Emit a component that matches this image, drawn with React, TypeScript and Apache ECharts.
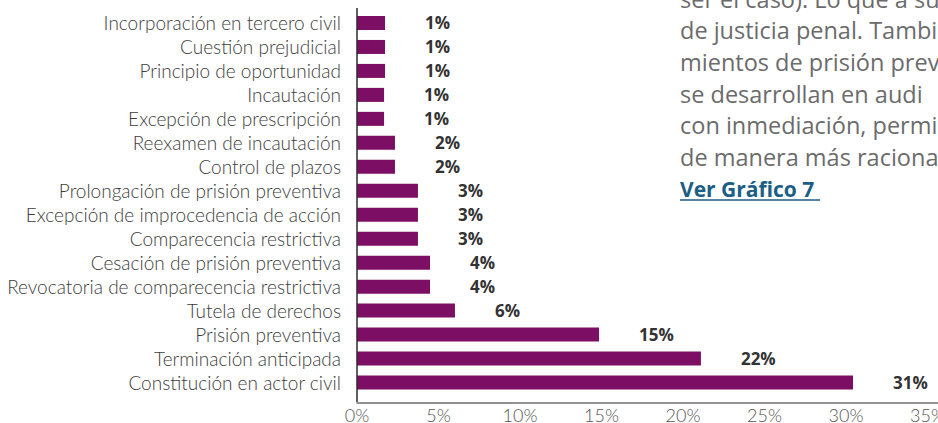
import React, { useEffect, useRef } from 'react';
import * as echarts from 'echarts';

const categories = [
  'Incorporación en tercero civil',
  'Cuestión prejudicial',
  'Principio de oportunidad',
  'Incautación',
  'Excepción de prescripción',
  'Reexamen de incautación',
  'Control de plazos',
  'Prolongación de prisión preventiva',
  'Excepción de improcedencia de acción',
  'Comparecencia restrictiva',
  'Cesación de prisión preventiva',
  'Revocatoria de comparecencia restrictiva',
  'Tutela de derechos',
  'Prisión preventiva',
  'Terminación anticipada',
  'Constitución en actor civil',
];

const barValues = [1.72, 1.72, 1.72, 1.66, 1.66, 2.33, 2.33, 3.74, 3.74, 3.74, 4.48, 4.48, 6.01, 14.85, 21.1, 30.43];

const valueLabels = ['1%', '1%', '1%', '1%', '1%', '2%', '2%', '3%', '3%', '3%', '4%', '4%', '6%', '15%', '22%', '31%'];

const tickStep = 5;
const axisMax = 36;

const paragraphLines = [
  'ser el caso). Lo que a su',
  'de justicia penal. Tambi',
  'mientos de prisión preve',
  'se desarrollan en audi',
  'con inmediación, permi',
  'de manera más raciona',
];

const linkText = 'Ver Gráfico 7';

export default function App() {
  const ref = useRef<HTMLDivElement>(null);

  useEffect(() => {
    if (!ref.current) return;
    const chart = echarts.init(ref.current, null, { renderer: 'svg' });

    const gridLeft = 357;
    const gridTop = 11;
    const gridHeight = 383.5;
    const pxPerUnit = 16.3;
    const gridWidth = axisMax * pxPerUnit;

    const textX = 680;
    const lineStep = 31.7;
    const firstLineY = -1.5;

    const graphics: any[] = [
      {
        type: 'line',
        shape: { x1: gridLeft, y1: 8, x2: gridLeft, y2: 402 },
        style: { stroke: '#2b2b2b', lineWidth: 1.5 },
        z: 10,
      },
    ];
    paragraphLines.forEach((t, i) => {
      graphics.push({
        type: 'text',
        x: textX,
        y: firstLineY + i * lineStep,
        style: {
          text: t,
          fill: '#6b6b6b',
          font: '23.5px "Open Sans"',
          verticalAlign: 'middle',
          align: 'left',
        },
      });
    });
    const linkY = firstLineY + paragraphLines.length * lineStep;
    graphics.push({
      type: 'text',
      x: textX,
      y: linkY,
      style: {
        text: linkText,
        fill: '#1b5e86',
        font: 'bold 21px "Open Sans"',
        verticalAlign: 'middle',
        align: 'left',
      },
    });
    graphics.push({
      type: 'line',
      shape: { x1: textX, y1: 200, x2: 820, y2: 200 },
      style: { stroke: '#1b5e86', lineWidth: 1.5 },
    });

    chart.setOption({
      animation: false,
      backgroundColor: '#ffffff',
      grid: {
        left: gridLeft,
        top: gridTop,
        width: gridWidth,
        height: gridHeight,
        containLabel: false,
        outerBoundsMode: 'none',
      },
      xAxis: {
        type: 'value',
        min: 0,
        max: axisMax,
        interval: tickStep,
        offset: 8,
        axisLine: { show: true, lineStyle: { color: '#6e6e6e', width: 1.5 } },
        axisTick: { show: false },
        splitLine: { show: false },
        axisLabel: {
          margin: 3,
          color: '#555555',
          fontFamily: 'Lato',
          fontWeight: 300,
          fontSize: 18,
          showMaxLabel: true,
          formatter: (v: number) => (Math.abs(v % tickStep) < 1e-9 ? `${v}%` : ''),
        },
      },
      yAxis: {
        type: 'category',
        inverse: true,
        data: categories,
        axisLine: { show: false },
        axisTick: { show: false },
        axisLabel: {
          interval: 0,
          margin: 16,
          color: '#3c3c3c',
          fontFamily: 'Lato',
          fontWeight: 300,
          fontSize: 19,
        },
      },
      graphic: graphics,
      series: [
        {
          type: 'bar',
          data: barValues,
          barWidth: 14,
          itemStyle: { color: '#7c0f64' },
          label: {
            show: true,
            position: 'right',
            distance: 40,
            color: '#333333',
            fontFamily: 'Open Sans',
            fontWeight: 'bold',
            fontSize: 17,
            formatter: (p: any) => valueLabels[p.dataIndex],
          },
        },
      ],
    });

    return () => chart.dispose();
  }, []);

  return (
    <div
      ref={ref}
      style={{ position: 'fixed', left: 0, top: 0, width: 938, height: 423, background: '#fff' }}
    />
  );
}
